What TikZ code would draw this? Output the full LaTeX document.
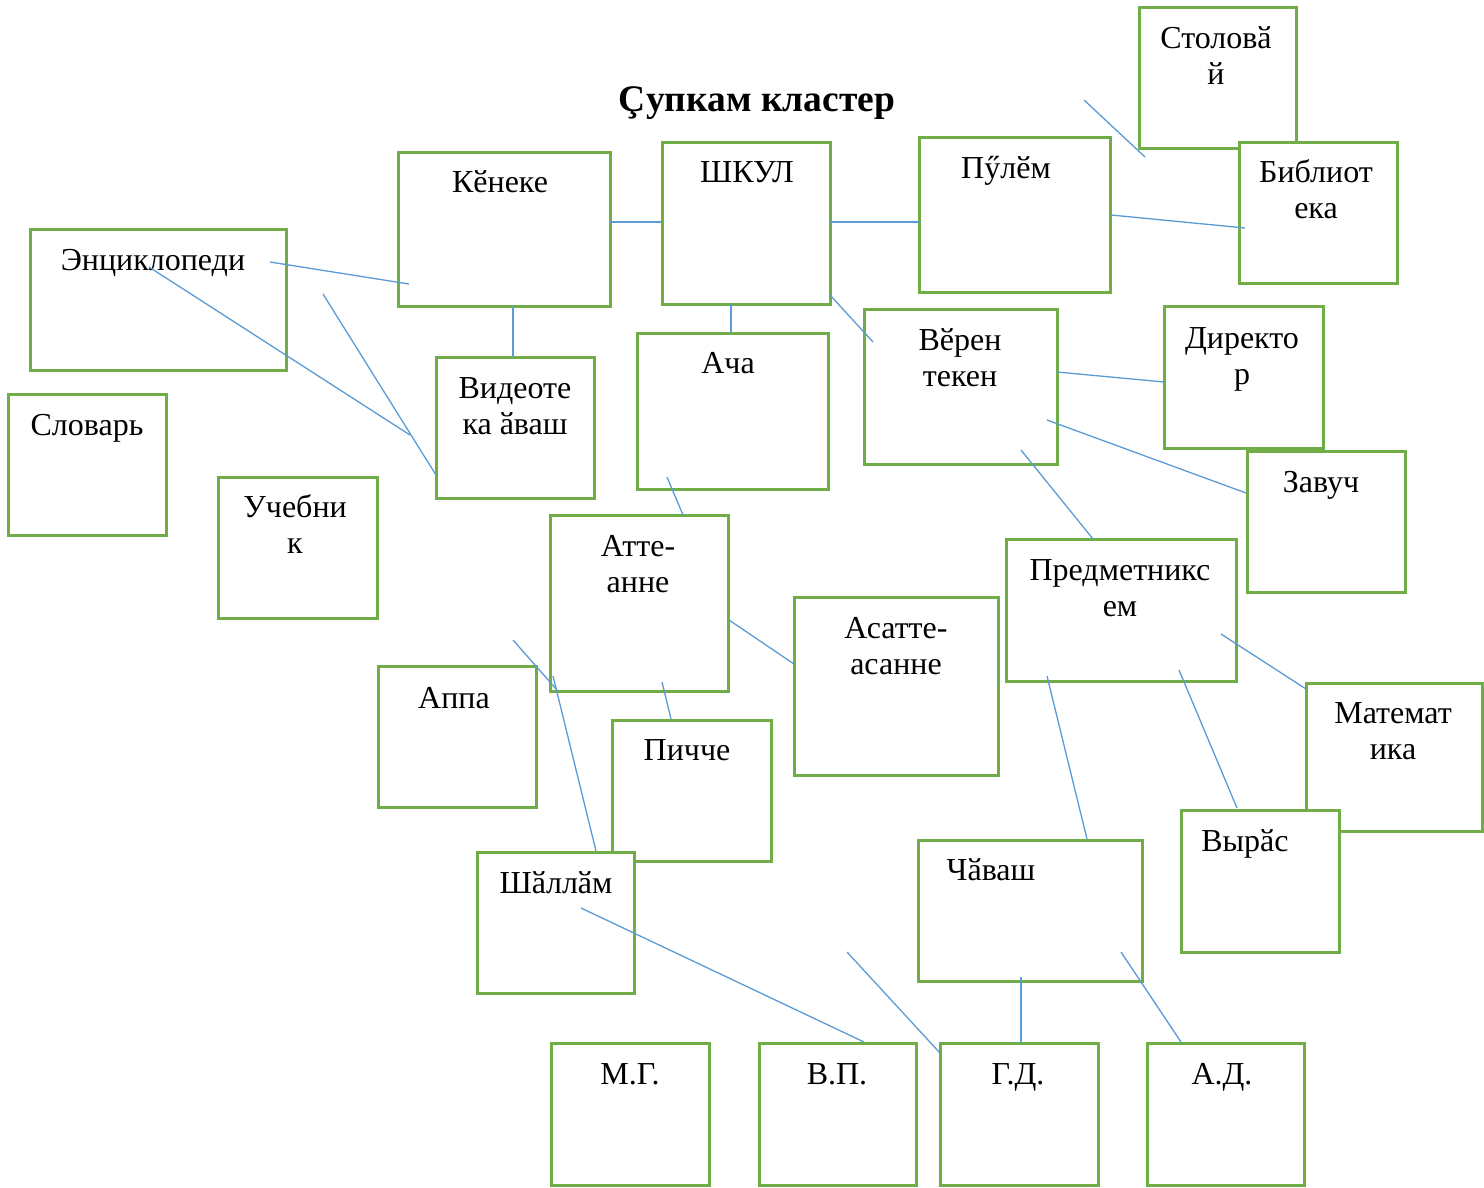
\documentclass[tikz,border=0pt]{standalone}
\usepackage{fontspec}
\setmainfont{Liberation Serif}
\definecolor{boxgreen}{HTML}{70AD47}
\definecolor{lineblue}{HTML}{5B9BD5}
\newcommand\mybox[5]{\node[box, minimum width={(#4-#2)*1pt}, minimum height={(#5-#3)*1pt}] (#1) at ({(#2+#4)/2},{(#3+#5)/2}) {};}
\newcommand\ml[1]{\begin{tabular}[t]{@{}c@{}}#1\end{tabular}}
\begin{document}
\begin{tikzpicture}[x=1pt,y=-1pt,
  box/.style={draw=boxgreen, line width=3pt, fill=white, rectangle, inner sep=0pt, outer sep=0pt},
  lbl/.style={anchor=base, inner sep=0pt, font=\fontsize{32}{36.5}\selectfont, text=black},
  conn/.style={draw=lineblue, line width=1.3pt}]
\useasboundingbox (0,0) rectangle (1484,1187);

% boxes
\mybox{stol}{1139}{7}{1296}{148}
\mybox{bib}{1239}{142}{1397}{283}
\mybox{ken}{398}{152}{610}{306}
\mybox{shk}{662}{142}{830}{304}
\mybox{pul}{919}{137}{1110}{292}
\mybox{enc}{30}{229}{286}{370}
\mybox{slo}{8}{394}{166}{535}
\mybox{vid}{436}{357}{594}{498}
\mybox{ach}{637}{333}{828}{489}
\mybox{ver}{864}{309}{1057}{464}
\mybox{dir}{1164}{306}{1323}{448}
\mybox{zav}{1247}{451}{1405}{592}
\mybox{uch}{218}{477}{377}{618}
\mybox{att}{550}{515}{728}{691}
\mybox{asa}{794}{597}{998}{775}
\mybox{pre}{1006}{539}{1236}{681}
\mybox{mat}{1306}{683}{1482}{831}
\mybox{vyr}{1181}{810}{1339}{952}
\mybox{app}{378}{666}{536}{807}
\mybox{pic}{612}{720}{771}{861}
\mybox{sha}{477}{852}{634}{993}
\mybox{cha}{918}{840}{1142}{981}
\mybox{mg}{551}{1043}{709}{1185}
\mybox{vp}{759}{1043}{916}{1185}
\mybox{gd}{940}{1043}{1098}{1185}
\mybox{ad}{1147}{1043}{1304}{1185}

% title
\node[anchor=base, inner sep=0pt, font=\fontsize{37.5}{40}\selectfont\bfseries] (title) at (757,111) {Çупкам кластер};

% labels
\node[lbl] (t-stol) at (1216,48) {\ml{Столовӑ\\й}};
\node[lbl] (t-bib) at (1316,182) {\ml{Библиот\\ека}};
\node[lbl] (t-ken) at (500,192) {Кӗнеке};
\node[lbl] (t-shk) at (747,182) {ШКУЛ};
\node[lbl] (t-pul) at (1006,178) {Пӳлӗм};
\node[lbl] (t-enc) at (153,270) {Энциклопеди};
\node[lbl] (t-slo) at (87,435) {Словарь};
\node[lbl] (t-vid) at (515,398) {\ml{Видеоте\\ка ӑваш}};
\node[lbl] (t-ach) at (728,373) {Ача};
\node[lbl] (t-ver) at (960,350) {\ml{Вӗрен\\текен}};
\node[lbl] (t-dir) at (1242,348) {\ml{Директо\\р}};
\node[lbl] (t-zav) at (1321,492) {Завуч};
\node[lbl] (t-uch) at (295,517) {\ml{Учебни\\к}};
\node[lbl] (t-att) at (638,556) {\ml{Атте-\\анне}};
\node[lbl] (t-asa) at (896,638) {\ml{Асатте-\\асанне}};
\node[lbl] (t-pre) at (1120,580) {\ml{Предметникс\\ем}};
\node[lbl] (t-mat) at (1393,723) {\ml{Математ\\ика}};
\node[lbl] (t-app) at (454,708) {Аппа};
\node[lbl] (t-pic) at (687,760) {Пичче};
\node[lbl] (t-sha) at (556,893) {Шӑллӑм};
\node[lbl] (t-cha) at (991,880) {Чӑваш};
\node[lbl] (t-vyr) at (1245,851) {Вырӑс};
\node[lbl] (t-mg) at (630,1084) {М.Г.};
\node[lbl] (t-vp) at (837,1084) {В.П.};
\node[lbl] (t-gd) at (1018,1084) {Г.Д.};
\node[lbl] (t-ad) at (1222,1084) {А.Д.};

% connector end points
\coordinate (stolA) at (1084,100);  \coordinate (stolB) at (1145,157);
\coordinate (pulbibA) at (1111,215); \coordinate (pulbibB) at (1245,228);
\coordinate (kenshkA) at (610,222); \coordinate (kenshkB) at (662,222);
\coordinate (shkpulA) at (830,222); \coordinate (shkpulB) at (919,222);
\coordinate (enckenA) at (270,262); \coordinate (enckenB) at (409,284);
\coordinate (encvidA) at (149,267); \coordinate (encvidB) at (410,435);
\coordinate (xvidA) at (323,294); \coordinate (xvidB) at (436,475);
\coordinate (kenvidA) at (513,306); \coordinate (kenvidB) at (513,357);
\coordinate (shkachA) at (731,304); \coordinate (shkachB) at (731,333);
\coordinate (shkverA) at (830,295); \coordinate (shkverB) at (873,342);
\coordinate (verdirA) at (1057,372); \coordinate (verdirB) at (1164,382);
\coordinate (verzavA) at (1047,420); \coordinate (verzavB) at (1246,493);
\coordinate (verpreA) at (1021,450); \coordinate (verpreB) at (1093,539);
\coordinate (achattA) at (667,477); \coordinate (achattB) at (683,515);
\coordinate (attasaA) at (729,620); \coordinate (attasaB) at (794,664);
\coordinate (prematA) at (1221,634); \coordinate (prematB) at (1306,689);
\coordinate (appA) at (513,640); \coordinate (appB) at (557,690);
\coordinate (attshaA) at (553,676); \coordinate (attshaB) at (596,851);
\coordinate (attpicA) at (662,682); \coordinate (attpicB) at (671,719);
\coordinate (prechaA) at (1047,676); \coordinate (prechaB) at (1087,839);
\coordinate (prevyrA) at (1179,670); \coordinate (prevyrB) at (1237,808);
\coordinate (shavpA) at (581,908); \coordinate (shavpB) at (864,1042);
\coordinate (xgdA) at (847,952); \coordinate (xgdB) at (940,1053);
\coordinate (chagdA) at (1021,977); \coordinate (chagdB) at (1021,1043);
\coordinate (chaadA) at (1121,952); \coordinate (chaadB) at (1181,1042);

% connectors
\draw[conn] (stolA) -- (stolB);
\draw[conn] (pulbibA) -- (pulbibB);
\draw[conn] (kenshkA) -- (kenshkB);
\draw[conn] (shkpulA) -- (shkpulB);
\draw[conn] (enckenA) -- (enckenB);
\draw[conn] (encvidA) -- (encvidB);
\draw[conn] (xvidA) -- (xvidB);
\draw[conn] (kenvidA) -- (kenvidB);
\draw[conn] (shkachA) -- (shkachB);
\draw[conn] (shkverA) -- (shkverB);
\draw[conn] (verdirA) -- (verdirB);
\draw[conn] (verzavA) -- (verzavB);
\draw[conn] (verpreA) -- (verpreB);
\draw[conn] (achattA) -- (achattB);
\draw[conn] (attasaA) -- (attasaB);
\draw[conn] (prematA) -- (prematB);
\draw[conn] (appA) -- (appB);
\draw[conn] (attshaA) -- (attshaB);
\draw[conn] (attpicA) -- (attpicB);
\draw[conn] (prechaA) -- (prechaB);
\draw[conn] (prevyrA) -- (prevyrB);
\draw[conn] (shavpA) -- (shavpB);
\draw[conn] (xgdA) -- (xgdB);
\draw[conn] (chagdA) -- (chagdB);
\draw[conn] (chaadA) -- (chaadB);
\end{tikzpicture}
\end{document}
